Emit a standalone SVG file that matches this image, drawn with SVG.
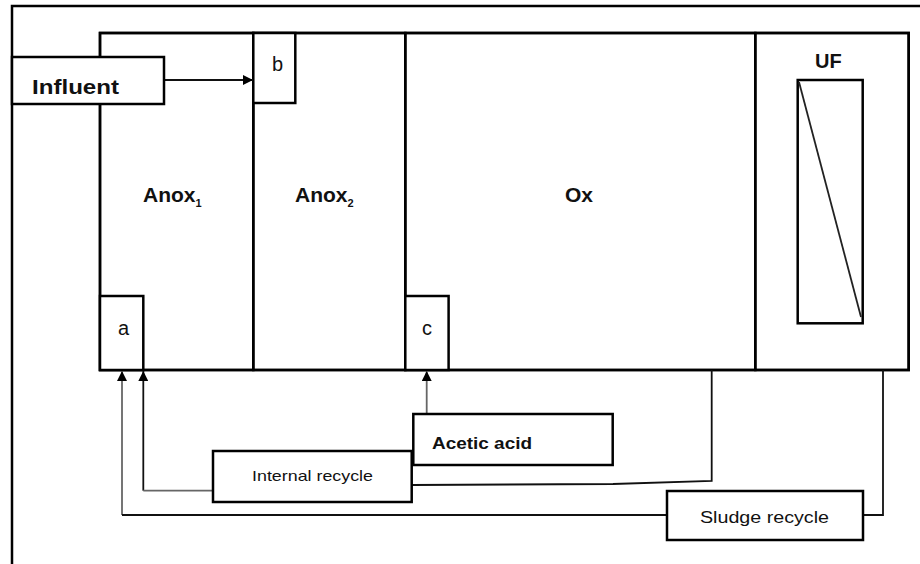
<svg xmlns="http://www.w3.org/2000/svg" width="920" height="564" viewBox="0 0 920 564">
<defs>
<style>
.box{fill:none;stroke:#000;stroke-width:2.5}
.wbox{fill:#fff;stroke:#000;stroke-width:2.5}
.con{fill:none;stroke:#111;stroke-width:1.8}
.gcon{fill:none;stroke:#666;stroke-width:1.8}
.t{font-family:"Liberation Sans",Arial,sans-serif;fill:#111}
.b{font-weight:bold}
</style>
<marker id="ah" viewBox="0 0 10 10" refX="10" refY="5" markerWidth="10" markerHeight="10" markerUnits="userSpaceOnUse" orient="auto">
<path d="M0,0 L10,5 L0,10 Z" fill="#000"/>
</marker>
</defs>
<rect width="920" height="564" fill="#fff"/>
<g id="frame"><path class="box" d="M12,564 L12,6 L920,6"/></g>
<g id="tank"><rect class="box" x="100" y="33" width="808.7" height="337"/></g>
<g id="anox1"><rect class="box" x="100" y="33" width="153.3" height="337"/>
<text class="t b" x="143" y="202" font-size="21">Anox<tspan font-size="11" dy="5">1</tspan></text></g>
<g id="anox2"><rect class="box" x="253.3" y="33" width="152" height="337"/>
<text class="t b" x="295" y="202" font-size="21">Anox<tspan font-size="11" dy="5">2</tspan></text></g>
<g id="ox"><rect class="box" x="405.3" y="33" width="350" height="337"/>
<text class="t b" x="565" y="202" font-size="21">Ox</text></g>
<g id="uf"><rect class="box" x="755.3" y="33" width="153.4" height="337"/>
<text class="t b" x="815" y="68" font-size="20">UF</text>
<rect class="box" x="797.7" y="80" width="65" height="243.3"/>
<line x1="799" y1="82" x2="861" y2="317" stroke="#222" stroke-width="1.8"/></g>
<g id="box-b"><rect class="wbox" x="253.3" y="33" width="42" height="70"/>
<text class="t" x="272" y="71" font-size="20">b</text></g>
<g id="box-a"><rect class="wbox" x="100" y="296" width="43.3" height="74"/>
<text class="t" x="118" y="335" font-size="20">a</text></g>
<g id="box-c"><rect class="wbox" x="405.3" y="296" width="43.3" height="74"/>
<text class="t" x="422" y="335" font-size="20">c</text></g>
<g id="connectors">
<line class="con" x1="164" y1="80" x2="253" y2="80" marker-end="url(#ah)"/>
<path class="gcon" d="M122,515 L122,371" marker-end="url(#ah)"/>
<path class="con" d="M667,515 L122,515"/>
<path class="con" d="M863,515 L883,515 L883,370"/>
<path class="con" d="M143.3,490.7 L143.3,371" marker-end="url(#ah)"/>
<path class="gcon" d="M213,490.7 L143.3,490.7"/>
<path class="con" d="M412,485 L613,484 L711.7,481 L711.7,370"/>
<line class="gcon" x1="426.7" y1="414" x2="426.7" y2="371" marker-end="url(#ah)"/>
</g>
<g id="influent"><rect class="wbox" x="12" y="57" width="152" height="47"/>
<text class="t b" x="32" y="94" font-size="21" textLength="87" lengthAdjust="spacingAndGlyphs">Influent</text></g>
<g id="acetic-acid"><rect class="wbox" x="413.3" y="414" width="199.4" height="51"/>
<text class="t b" x="432" y="449" font-size="17" textLength="100" lengthAdjust="spacingAndGlyphs">Acetic acid</text></g>
<g id="internal-recycle"><rect class="wbox" x="213" y="451" width="198.7" height="51"/>
<text class="t" x="252" y="481" font-size="15" textLength="121" lengthAdjust="spacingAndGlyphs">Internal recycle</text></g>
<g id="sludge-recycle"><rect class="wbox" x="667" y="491" width="196" height="49"/>
<text class="t" x="700" y="523" font-size="16" textLength="129" lengthAdjust="spacingAndGlyphs">Sludge recycle</text></g>
</svg>
